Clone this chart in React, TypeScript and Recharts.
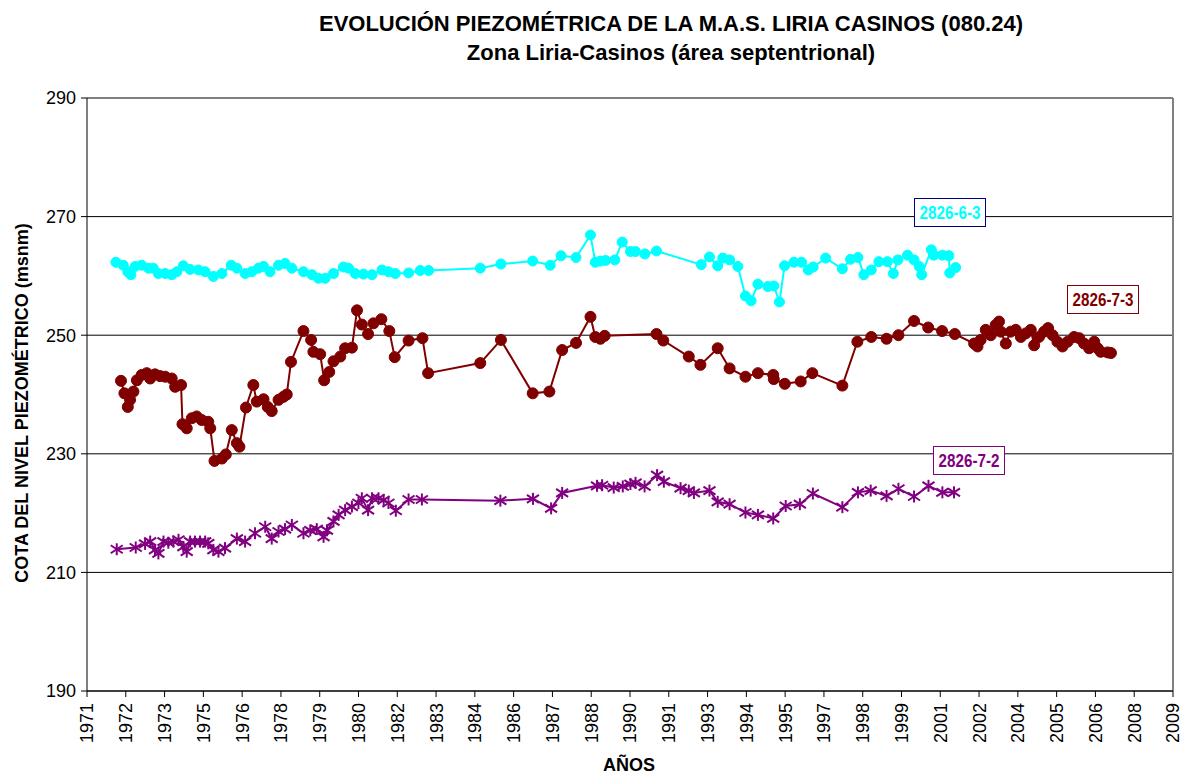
import React from "react";
import {
  LineChart,
  Line,
  XAxis,
  YAxis,
  CartesianGrid,
  ReferenceLine,
} from "recharts";

// Decimal years on x, metres above sea level on y
const P263_YEARS = [
  1972.2, 1972.46, 1972.62, 1972.73, 1972.88, 1973.11, 1973.35, 1973.52, 1973.7, 1973.94,
  1974.17, 1974.35, 1974.58, 1974.82, 1975.11, 1975.35, 1975.64, 1975.94, 1976.27, 1976.47,
  1976.76, 1977.0, 1977.23, 1977.41, 1977.64, 1977.94, 1978.17, 1978.41, 1978.82, 1979.12,
  1979.35, 1979.59, 1979.88, 1980.23, 1980.41, 1980.65, 1980.94, 1981.24, 1981.59, 1981.82,
  1982.06, 1982.53, 1982.94, 1983.24, 1985.06, 1985.79, 1986.91, 1987.53, 1987.91, 1988.44,
  1988.95, 1989.12, 1989.3, 1989.48, 1989.81, 1990.07, 1990.36, 1990.54, 1990.87, 1991.28,
  1992.86, 1993.15, 1993.44, 1993.62, 1993.86, 1994.15, 1994.42, 1994.62, 1994.86, 1995.21,
  1995.42, 1995.62, 1995.8, 1996.13, 1996.4, 1996.64, 1996.81, 1997.25, 1997.84, 1998.13,
  1998.39, 1998.6, 1998.86, 1999.13, 1999.43, 1999.64, 1999.8, 2000.14, 2000.37, 2000.55,
  2000.64, 2000.98, 2001.07, 2001.37, 2001.6, 2001.63, 2001.84,
];
const P263_LEVELS = [
  262.3, 261.8, 260.7, 260.2, 261.6, 261.8, 261.3, 261.3, 260.4, 260.4,
  260.2, 260.7, 261.7, 261.1, 261.0, 260.7, 259.9, 260.4, 261.8, 261.3,
  260.4, 260.7, 261.3, 261.6, 260.7, 261.8, 262.1, 261.3, 260.7, 260.2,
  259.6, 259.6, 260.4, 261.5, 261.3, 260.4, 260.3, 260.2, 261.0, 260.7,
  260.4, 260.5, 260.9, 260.9, 261.3, 262.0, 262.5, 261.8, 263.4, 263.1,
  266.9, 262.3, 262.5, 262.6, 262.7, 265.7, 264.1, 264.1, 263.7, 264.2,
  261.9, 263.2, 261.7, 263.0, 262.7, 261.6, 256.6, 255.8, 258.6, 258.2,
  258.3, 255.6, 261.7, 262.3, 262.3, 261.0, 261.5, 263.0, 261.2, 262.8,
  263.1, 260.2, 261.0, 262.4, 262.4, 260.4, 262.7, 263.5, 262.7, 261.6,
  260.2, 264.4, 263.5, 263.5, 263.4, 260.5, 261.4,
];

const P273_YEARS = [
  1972.38, 1972.5, 1972.62, 1972.7, 1972.82, 1972.94, 1973.11, 1973.29, 1973.41, 1973.58,
  1973.76, 1973.94, 1974.17, 1974.29, 1974.5, 1974.55, 1974.7, 1974.88, 1975.05, 1975.23,
  1975.46, 1975.53, 1975.68, 1975.94, 1976.08, 1976.29, 1976.47, 1976.56, 1976.79, 1977.05,
  1977.17, 1977.41, 1977.56, 1977.7, 1977.94, 1978.11, 1978.23, 1978.38, 1978.82, 1979.09,
  1979.17, 1979.41, 1979.55, 1979.73, 1979.88, 1980.12, 1980.29, 1980.53, 1980.71, 1980.88,
  1981.1, 1981.29, 1981.57, 1981.85, 1982.04, 1982.53, 1983.02, 1983.22, 1985.06, 1985.79,
  1986.91, 1987.5, 1987.95, 1988.44, 1988.95, 1989.12, 1989.3, 1989.45, 1991.28, 1991.52,
  1992.42, 1992.83, 1993.44, 1993.86, 1994.42, 1994.86, 1995.4, 1995.42, 1995.81, 1996.37,
  1996.78, 1997.84, 1998.37, 1998.86, 1999.4, 1999.82, 2000.37, 2000.87, 2001.36, 2001.81,
  2002.49, 2002.61, 2002.72, 2002.9, 2003.08, 2003.25, 2003.37, 2003.43, 2003.61, 2003.78,
  2003.96, 2004.14, 2004.31, 2004.49, 2004.61, 2004.78, 2004.96, 2005.1, 2005.26, 2005.43,
  2005.61, 2005.79, 2006.02, 2006.2, 2006.37, 2006.55, 2006.73, 2006.85, 2006.96, 2007.2,
  2007.32,
];
const P273_LEVELS = [
  242.3, 240.2, 237.9, 239.1, 240.5, 242.4, 243.3, 243.6, 242.7, 243.4,
  243.1, 243.0, 242.7, 241.3, 241.6, 235.0, 234.3, 236.0, 236.3, 235.7,
  235.4, 234.3, 228.8, 229.2, 229.9, 234.0, 231.8, 231.2, 237.8, 241.6,
  238.8, 239.2, 237.9, 237.2, 239.1, 239.6, 240.0, 245.5, 250.7, 249.2,
  247.2, 246.8, 242.4, 243.8, 245.6, 246.4, 247.8, 247.9, 254.2, 251.8,
  250.2, 252.0, 252.7, 250.7, 246.3, 249.1, 249.5, 243.6, 245.3, 249.2,
  240.2, 240.5, 247.5, 248.7, 253.1, 249.7, 249.4, 249.9, 250.2, 249.1,
  246.4, 245.0, 247.8, 244.4, 243.0, 243.6, 243.3, 242.6, 241.8, 242.2,
  243.6, 241.5, 248.9, 249.7, 249.4, 250.0, 252.4, 251.3, 250.7, 250.2,
  248.6, 248.1, 249.2, 250.9, 250.0, 251.7, 252.3, 250.6, 248.6, 250.6,
  250.9, 249.7, 250.3, 250.9, 248.3, 249.7, 250.6, 251.2, 250.0, 248.9,
  248.1, 248.9, 249.7, 249.5, 248.6, 247.8, 248.9, 247.8, 247.2, 247.1,
  247.0,
];

const P272_YEARS = [
  1972.23, 1972.9, 1973.23, 1973.41, 1973.58, 1973.7, 1973.88, 1974.05, 1974.23, 1974.41,
  1974.58, 1974.7, 1974.82, 1974.99, 1975.17, 1975.35, 1975.46, 1975.64, 1975.82, 1976.05,
  1976.47, 1976.76, 1977.11, 1977.47, 1977.7, 1977.94, 1978.17, 1978.41, 1978.82, 1979.06,
  1979.29, 1979.53, 1979.65, 1979.88, 1980.06, 1980.29, 1980.53, 1980.76, 1980.88, 1981.1,
  1981.24, 1981.47, 1981.65, 1981.82, 1982.08, 1982.53, 1983.0, 1985.77, 1986.92, 1987.56,
  1987.95, 1989.18, 1989.36, 1989.77, 1990.09, 1990.36, 1990.54, 1990.86, 1991.3, 1991.54,
  1992.13, 1992.42, 1992.6, 1993.15, 1993.44, 1993.86, 1994.42, 1994.86, 1995.4, 1995.84,
  1996.34, 1996.8, 1997.84, 1998.39, 1998.84, 1999.4, 1999.82, 2000.37, 2000.88, 2001.37,
  2001.78,
];
const P272_LEVELS = [
  213.9, 214.2, 214.8, 215.2, 213.8, 213.2, 215.2, 215.0, 215.2, 215.5,
  214.3, 213.5, 215.2, 215.2, 215.2, 215.2, 214.9, 213.8, 213.5, 214.1,
  215.7, 215.2, 216.6, 217.7, 215.7, 216.9, 217.3, 218.0, 216.6, 217.1,
  217.3, 216.0, 217.1, 218.6, 219.7, 220.5, 221.1, 221.7, 222.5, 220.5,
  222.5, 222.5, 222.2, 221.7, 220.4, 222.3, 222.3, 222.1, 222.4, 220.8,
  223.4, 224.6, 224.7, 224.3, 224.5, 224.9, 225.1, 224.5, 226.4, 225.3,
  224.2, 223.8, 223.4, 223.8, 221.9, 221.5, 220.1, 219.7, 219.1, 221.2,
  221.5, 223.3, 221.0, 223.5, 223.8, 222.9, 224.1, 222.8, 224.6, 223.5,
  223.5,
];

// Excel date axis: 500-day steps from 7 Mar 1971
const X_TICKS = [
  1971.18, 1972.549, 1973.918, 1975.287, 1976.656, 1978.025, 1979.394, 1980.763,
  1982.131, 1983.5, 1984.869, 1986.238, 1987.607, 1988.976, 1990.345, 1991.714,
  1993.083, 1994.452, 1995.821, 1997.19, 1998.559, 1999.927, 2001.296, 2002.665,
  2004.034, 2005.403, 2006.772, 2008.141, 2009.51,
];
const X_LABELS = [
  "1971", "1972", "1973", "1975", "1976", "1978", "1979", "1980", "1982", "1983",
  "1984", "1986", "1987", "1988", "1990", "1991", "1993", "1994", "1995", "1997",
  "1998", "1999", "2001", "2002", "2004", "2005", "2006", "2008", "2009",
];
const Y_TICKS = [190, 210, 230, 250, 270, 290];

const FONT = "'Liberation Sans', Arial, sans-serif";

const toPoints = (xs: number[], ys: number[]) => xs.map((x, i) => ({ x, y: ys[i] }));

const serie63 = toPoints(P263_YEARS, P263_LEVELS);
const serie73 = toPoints(P273_YEARS, P273_LEVELS);
const serie72 = toPoints(P272_YEARS, P272_LEVELS);

function YearTick(props: any) {
  const { x, y, payload } = props;
  const i = X_TICKS.indexOf(payload.value);
  const ty = y + 4;
  return (
    <text
      x={x}
      y={ty}
      dy="0.36em"
      textAnchor="end"
      fontSize={18}
      fontFamily={FONT}
      fill="#000"
      transform={`rotate(-90, ${x}, ${ty})`}
    >
      {i >= 0 ? X_LABELS[i] : ""}
    </text>
  );
}

function StarDot(props: any) {
  const { cx, cy } = props;
  if (cx == null || cy == null) return null;
  const c = "#800080";
  return (
    <g stroke={c} strokeWidth={2}>
      <line x1={cx} y1={cy - 6} x2={cx} y2={cy + 6} />
      <line x1={cx - 6} y1={cy - 4} x2={cx + 6} y2={cy + 4} />
      <line x1={cx - 6} y1={cy + 4} x2={cx + 6} y2={cy - 4} />
    </g>
  );
}

function SeriesTag({ text, left, top, color, border }: any) {
  return (
    <div
      style={{
        position: "absolute",
        left,
        top,
        width: 72,
        height: 29,
        border: `1.5px solid ${border}`,
        boxSizing: "border-box",
        color,
        background: "#fff",
        overflow: "hidden",
        whiteSpace: "nowrap",
        textAlign: "center",
      }}
    >
      <span
        style={{
          display: "inline-block",
          fontFamily: FONT,
          fontWeight: "bold",
          fontSize: 19,
          lineHeight: "27px",
          transform: "scaleX(0.8)",
          transformOrigin: "center",
          marginLeft: -30,
          marginRight: -30,
        }}
      >
        {text}
      </span>
    </div>
  );
}

export default function App() {
  return (
    <div
      style={{
        position: "absolute",
        left: 0,
        top: 0,
        width: 1181,
        height: 774,
        background: "#fff",
        fontFamily: FONT,
      }}
    >
      <div
        style={{
          position: "absolute",
          left: 171,
          top: 9,
          width: 1000,
          textAlign: "center",
          fontWeight: "bold",
          fontSize: 22,
          lineHeight: "29px",
        }}
      >
        EVOLUCIÓN PIEZOMÉTRICA DE LA M.A.S. LIRIA CASINOS (080.24)
        <br />
        Zona Liria-Casinos (área septentrional)
      </div>

      <LineChart
        width={1181}
        height={774}
        margin={{ top: 98, right: 8, left: 27, bottom: 23 }}
      >
        <CartesianGrid vertical={false} stroke="#000" strokeWidth={1} />
        <XAxis
          type="number"
          dataKey="x"
          domain={[X_TICKS[0], X_TICKS[X_TICKS.length - 1]]}
          ticks={X_TICKS}
          interval={0}
          allowDataOverflow
          height={60}
          tick={<YearTick />}
          tickSize={6}
          axisLine={{ stroke: "#000" }}
          tickLine={{ stroke: "#000" }}
        />
        <YAxis
          type="number"
          domain={[190, 290]}
          ticks={Y_TICKS}
          width={60}
          tickSize={6}
          tickMargin={5}
          tick={{ fontSize: 18, fill: "#000", fontFamily: FONT }}
          axisLine={{ stroke: "#000" }}
          tickLine={{ stroke: "#000" }}
        />
        <ReferenceLine x={X_TICKS[X_TICKS.length - 1]} stroke="#808080" strokeWidth={2} />
        <Line
          data={serie63}
          dataKey="y"
          type="linear"
          stroke="#00FFFF"
          strokeWidth={2}
          dot={{ r: 5, fill: "#00FFFF", stroke: "#00FFFF", strokeWidth: 1 }}
          isAnimationActive={false}
        />
        <Line
          data={serie73}
          dataKey="y"
          type="linear"
          stroke="#800000"
          strokeWidth={2}
          dot={{ r: 5.5, fill: "#800000", stroke: "#800000", strokeWidth: 1 }}
          isAnimationActive={false}
        />
        <Line
          data={serie72}
          dataKey="y"
          type="linear"
          stroke="#800080"
          strokeWidth={2}
          dot={<StarDot />}
          isAnimationActive={false}
        />
      </LineChart>

      <SeriesTag text="2826-6-3" left={914} top={198} color="#00FFFF" border="#000080" />
      <SeriesTag text="2826-7-3" left={1067} top={285} color="#800000" border="#800000" />
      <SeriesTag text="2826-7-2" left={933} top={446} color="#800080" border="#800080" />

      <div
        style={{
          position: "absolute",
          left: 22,
          top: 403,
          transform: "translate(-50%, -50%) rotate(-90deg)",
          whiteSpace: "nowrap",
          fontWeight: "bold",
          fontSize: 18,
        }}
      >
        COTA DEL NIVEL PIEZOMÉTRICO (msnm)
      </div>
      <div
        style={{
          position: "absolute",
          left: 629,
          top: 765,
          transform: "translate(-50%, -50%)",
          fontWeight: "bold",
          fontSize: 18,
        }}
      >
        AÑOS
      </div>
    </div>
  );
}
